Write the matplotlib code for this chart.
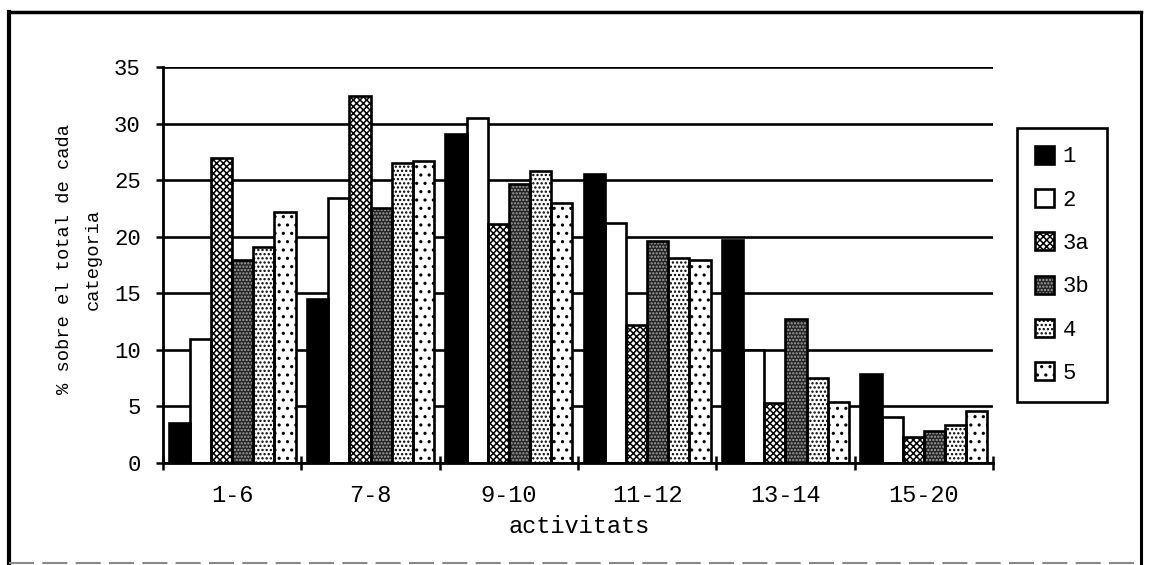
import matplotlib
matplotlib.use('Agg')
import matplotlib.pyplot as plt
import numpy as np
from matplotlib.patches import Patch
from matplotlib.legend_handler import HandlerTuple
from matplotlib.lines import Line2D

# ---- data ----
categories = ['1-6', '7-8', '9-10', '11-12', '13-14', '15-20']
series_names = ['1', '2', '3a', '3b', '4', '5']
s1 = [3.5, 14.5, 29.1, 25.5, 19.7, 7.9]
s2 = [11.0, 23.4, 30.5, 21.2, 10.0, 4.1]
s3a = [27.0, 32.4, 21.1, 12.2, 5.3, 2.3]
s3b = [17.9, 22.5, 24.7, 19.6, 12.7, 2.8]
s4 = [19.1, 26.5, 25.8, 18.1, 7.5, 3.4]
s5 = [22.2, 26.7, 23.0, 17.9, 5.4, 4.6]
series = [s1, s2, s3a, s3b, s4, s5]
yticks = [0, 5, 10, 15, 20, 25, 30, 35]
xlabel = 'activitats'
ylabel = '% sobre el total de cada\ncategoria'

# ---- styles ----
face = ['black', 'white', 'white', '#222222', 'white', 'white']
hatches = [None, None, 'xxxxx', '.....', '....', '..']
hcolor = ['black', 'black', 'black', '#a8a8a8', 'black', 'black']

FONT = 'Liberation Mono'
plt.rcParams['font.family'] = [FONT, 'DejaVu Sans']
plt.rcParams['hatch.linewidth'] = 1.1

fig = plt.figure(figsize=(11.5, 5.65), dpi=100)
ax = fig.add_axes([163/1150, 1-463/565, (993-163)/1150, (463-67)/565])

n = len(series)
bw = 0.153
x = np.arange(len(categories)) + 0.5
handles = []
for i, vals in enumerate(series):
    pos = x + (i - (n-1)/2) * bw
    ax.bar(pos, vals, width=bw, color=face[i], edgecolor=hcolor[i],
           hatch=hatches[i], linewidth=0, zorder=3)
    ax.bar(pos, vals, width=bw, fill=False, edgecolor='black',
           linewidth=1.9, zorder=4)
    p1 = Patch(facecolor=face[i], edgecolor=hcolor[i], hatch=hatches[i], linewidth=0)
    p2 = Patch(fill=False, edgecolor='black', linewidth=1.9)
    handles.append((p1, p2))

ax.set_xlim(0, len(categories))
ax.set_ylim(0, 35)
ax.set_yticks(yticks)
ax.set_yticklabels([str(t) for t in yticks])
ax.yaxis.grid(True, color='black', linewidth=1.9, zorder=0)
ax.set_axisbelow(True)

ax.set_xticks(np.arange(len(categories)+1))
ax.set_xticklabels([])
ax.set_xticks(x, minor=True)
ax.set_xticklabels(categories, minor=True)
ax.tick_params(axis='x', which='major', direction='inout', length=10, width=1.8)
ax.tick_params(axis='x', which='minor', length=0, pad=15, labelsize=17)
ax.tick_params(axis='y', direction='out', length=5, width=1.8, pad=11, labelsize=16)

for s in ['top', 'right']:
    ax.spines[s].set_visible(False)
for s in ['left', 'bottom']:
    ax.spines[s].set_linewidth(2.0)
    ax.spines[s].set_zorder(5)

fig.text(579/1150, 1-533/565, xlabel, ha='center', va='baseline', fontsize=17)
fig.text(79/1150, 1-259/565, ylabel, ha='center', va='center', rotation=90,
         fontsize=13.5, linespacing=1.9, multialignment='center')

leg = fig.legend(handles, series_names, handler_map={tuple: HandlerTuple(ndivide=1)},
                 loc='upper left', bbox_to_anchor=(1017/1150, 1-128/565),
                 bbox_transform=fig.transFigure, fontsize=16, frameon=True,
                 fancybox=False, edgecolor='black', framealpha=1,
                 handlelength=0.85, handleheight=0.85, handletextpad=0.4,
                 labelspacing=0.98, borderpad=0.8, borderaxespad=0)
leg.get_frame().set_linewidth(1.9)

# outer frame
fig.add_artist(Line2D([9/1150, 9/1150], [1-12/565, 1-563/565], color='black', lw=3, transform=fig.transFigure))
fig.add_artist(Line2D([9/1150, 1141/1150], [1-12/565, 1-12/565], color='black', lw=2.5, transform=fig.transFigure))
fig.add_artist(Line2D([1141/1150, 1141/1150], [1-12/565, 1-563/565], color='black', lw=2.2, transform=fig.transFigure))
fig.add_artist(Line2D([9/1150, 1141/1150], [1-563/565, 1-563/565], color='#888888', lw=1.5,
                      linestyle=(0, (12, 4)), transform=fig.transFigure))

fig.savefig('out.png', dpi=100)
